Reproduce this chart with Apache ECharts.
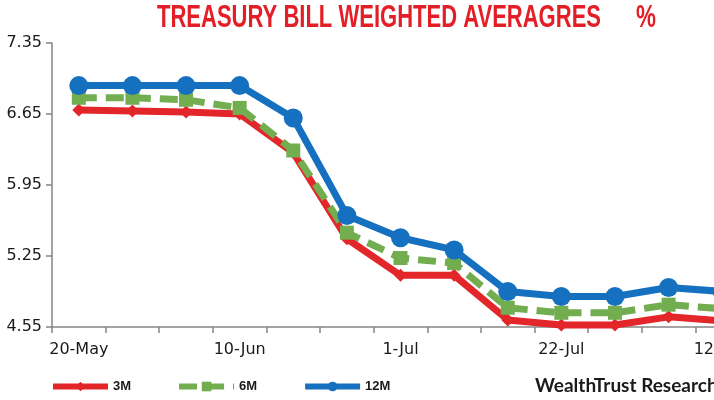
<!DOCTYPE html>
<html>
<head>
<meta charset="utf-8">
<script src="https://cdn.jsdelivr.net/npm/echarts@6/dist/echarts.min.js"></script>
<style>html,body{margin:0;padding:0;background:#fff;}#c{width:714px;height:400px;}</style>
</head>
<body>
<div id="c"></div>
<script>
const categories = ['20-May','27-May','3-Jun','10-Jun','17-Jun','24-Jun','1-Jul','8-Jul','15-Jul','22-Jul','29-Jul','5-Aug','12-Aug'];
const m3  = [6.69, 6.68, 6.67, 6.65, 6.27, 5.42, 5.06, 5.06, 4.62, 4.57, 4.57, 4.65, 4.61];
const m6  = [6.81, 6.81, 6.79, 6.71, 6.29, 5.48, 5.23, 5.18, 4.74, 4.69, 4.69, 4.77, 4.73];
const m12 = [6.93, 6.93, 6.93, 6.93, 6.61, 5.65, 5.43, 5.31, 4.90, 4.85, 4.85, 4.94, 4.90];
const yTicks = [4.55, 5.25, 5.95, 6.65, 7.35];
const titleText = 'TREASURY BILL WEIGHTED AVERAGRES';
const titleUnit = '%';
const sourceText = 'WealthTrust Research';

const chart = echarts.init(document.getElementById('c'), null, {renderer: 'canvas'});
const RED = '#e3262a', GREEN = '#72ad50', BLUE = '#1670c0';
const axisFont = "'DejaVu Sans', sans-serif";
const titleFont = "bold 32px 'Liberation Sans', Arial, sans-serif";
chart.setOption({
  animation: false,
  backgroundColor: '#fff',
  graphic: [
    {type: 'text', x: 157, y: 2, scaleX: 0.688, style: {text: titleText, fill: '#e31e26', font: titleFont, verticalAlign: 'top'}},
    {type: 'text', x: 636, y: 2, scaleX: 0.7, style: {text: titleUnit, fill: '#e31e26', font: titleFont, verticalAlign: 'top'}},
    {type: 'text', x: 535, y: 376, style: {text: sourceText, fill: '#1a1a1a', font: "bold 19px Lato, 'Open Sans', sans-serif", verticalAlign: 'top'}}
  ],
  legend: {
    left: 45, top: 375, itemWidth: 55, itemHeight: 12, itemGap: 45,
    lineStyle: {width: 6},
    textStyle: {fontFamily: "'Liberation Sans', Arial, sans-serif", fontWeight: 'bold', fontSize: 13, color: '#1a1a1a'},
    data: ['3M', '6M', '12M']
  },
  grid: {left: 52, top: 43, height: 284, width: 697, outerBoundsMode: 'none', containLabel: false},
  xAxis: {
    type: 'category', data: categories, boundaryGap: true,
    axisLine: {show: true, lineStyle: {color: '#858585', width: 1.5}},
    axisTick: {show: true, interval: 0, length: 6, lineStyle: {color: '#858585', width: 1.5}},
    axisLabel: {interval: 2, margin: 15, fontFamily: axisFont, fontSize: 16, color: '#1a1a1a'},
    splitLine: {show: false}
  },
  yAxis: {
    type: 'value', min: 4.55, max: 7.35,
    axisLine: {show: true, lineStyle: {color: '#858585', width: 1.5}},
    axisTick: {show: true, length: 6, customValues: yTicks, lineStyle: {color: '#858585', width: 1.5}},
    axisLabel: {customValues: yTicks, formatter: v => v.toFixed(2), margin: 10, fontFamily: axisFont, fontSize: 16, color: '#1a1a1a'},
    splitLine: {show: false}
  },
  series: [
    {name: '3M', type: 'line', data: m3, symbol: 'diamond', symbolSize: 13, showAllSymbol: true,
     lineStyle: {color: RED, width: 7}, itemStyle: {color: RED}, z: 2},
    {name: '6M', type: 'line', data: m6, symbol: 'rect', symbolSize: 14, showAllSymbol: true,
     lineStyle: {color: GREEN, width: 7, type: [18, 9]}, itemStyle: {color: GREEN}, z: 3},
    {name: '12M', type: 'line', data: m12, symbol: 'circle', symbolSize: 19, showAllSymbol: true,
     lineStyle: {color: BLUE, width: 7}, itemStyle: {color: BLUE}, z: 4}
  ]
});
</script>
</body>
</html>
